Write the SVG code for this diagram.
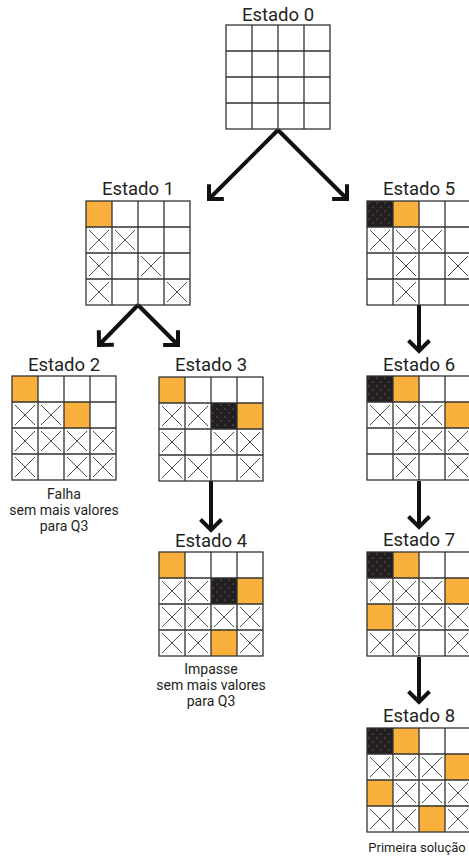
<svg xmlns="http://www.w3.org/2000/svg" xmlns:xlink="http://www.w3.org/1999/xlink" width="469" height="856" viewBox="0 0 469 856">
  <style>
    .lbl { font-family: Roboto, "Liberation Sans", sans-serif; font-size: 18.5px; fill: #231f20; text-anchor: middle; }
    .cap { font-family: Roboto, "Liberation Sans", sans-serif; font-size: 14px; fill: #231f20; text-anchor: middle; }
    .o { fill: #f9b03c; }
    .qd { fill: url(#dots); }
    .gl { fill: none; stroke: #333; stroke-width: 1.3; }
    .xm { fill: none; stroke: #3a3a3a; stroke-width: 0.9; }
    .conn { fill: none; stroke: #111; stroke-width: 4; marker-end: url(#ah); }
  </style>
  <defs>
    <pattern id="dots" patternUnits="userSpaceOnUse" width="8" height="8">
      <rect width="8" height="8" fill="#231f20"/>
      <circle cx="2" cy="2" r="0.6" fill="#9a9a9a"/>
      <circle cx="6" cy="6" r="0.6" fill="#9a9a9a"/>
    </pattern>
    <marker id="ah" markerUnits="userSpaceOnUse" viewBox="-14 -13 17 26" refX="0" refY="0" markerWidth="17" markerHeight="26" orient="auto" overflow="visible">
      <path d="M-10.5,-10.5 L0,0 L-10.5,10.5" fill="none" stroke="#111" stroke-width="4" stroke-linejoin="miter"/>
    </marker>
    <!-- empty 4x4 board, 26px cells -->
    <g id="grid" class="gl">
      <rect x="0" y="0" width="104" height="104"/>
      <path d="M26 0V104M52 0V104M78 0V104M0 26H104M0 52H104M0 78H104"/>
    </g>
    <!-- crossed-out cell -->
    <path id="x" class="xm" d="M3 3L23 23M23 3L3 23"/>
    <!-- queen placed and fixed (dark dotted cell) -->
    <rect id="qc" class="qd" width="26" height="26"/>
  </defs>

  <g id="connectors">
    <path class="conn" d="M278 130L209 199"/>
    <path class="conn" d="M278 130L347 199"/>
    <path class="conn" d="M138 305L99 345"/>
    <path class="conn" d="M138 305L178 345"/>
    <path class="conn" d="M211 481V530"/>
    <path class="conn" d="M419 305V351"/>
    <path class="conn" d="M419 481V527"/>
    <path class="conn" d="M419 657V702"/>
  </g>

  <g id="estado0">
    <text class="lbl" x="278" y="21">Estado 0</text>
    <g transform="translate(226 25)">
      <use xlink:href="#grid"/>
    </g>
  </g>

  <g id="estado1">
    <text class="lbl" x="138" y="195">Estado 1</text>
    <g transform="translate(86 201)">
      <rect class="o" x="0" y="0" width="26" height="26"/>
      <use xlink:href="#x" x="0" y="26"/><use xlink:href="#x" x="26" y="26"/>
      <use xlink:href="#x" x="0" y="52"/><use xlink:href="#x" x="52" y="52"/>
      <use xlink:href="#x" x="0" y="78"/><use xlink:href="#x" x="78" y="78"/>
      <use xlink:href="#grid"/>
    </g>
  </g>

  <g id="estado2">
    <text class="lbl" x="64" y="371">Estado 2</text>
    <g transform="translate(12 376)">
      <rect class="o" x="0" y="0" width="26" height="26"/>
      <rect class="o" x="52" y="26" width="26" height="26"/>
      <use xlink:href="#x" x="0" y="26"/><use xlink:href="#x" x="26" y="26"/>
      <use xlink:href="#x" x="0" y="52"/><use xlink:href="#x" x="26" y="52"/><use xlink:href="#x" x="52" y="52"/><use xlink:href="#x" x="78" y="52"/>
      <use xlink:href="#x" x="0" y="78"/><use xlink:href="#x" x="52" y="78"/><use xlink:href="#x" x="78" y="78"/>
      <use xlink:href="#grid"/>
    </g>
    <text class="cap" x="64" y="499">Falha</text>
    <text class="cap" x="64" y="515">sem mais valores</text>
    <text class="cap" x="64" y="531">para Q3</text>
  </g>

  <g id="estado3">
    <text class="lbl" x="211" y="371">Estado 3</text>
    <g transform="translate(159 377)">
      <rect class="o" x="0" y="0" width="26" height="26"/>
      <use xlink:href="#qc" x="52" y="26"/>
      <rect class="o" x="78" y="26" width="26" height="26"/>
      <use xlink:href="#x" x="0" y="26"/><use xlink:href="#x" x="26" y="26"/>
      <use xlink:href="#x" x="0" y="52"/><use xlink:href="#x" x="52" y="52"/><use xlink:href="#x" x="78" y="52"/>
      <use xlink:href="#x" x="0" y="78"/><use xlink:href="#x" x="26" y="78"/><use xlink:href="#x" x="78" y="78"/>
      <use xlink:href="#grid"/>
    </g>
  </g>

  <g id="estado4">
    <text class="lbl" x="211" y="547">Estado 4</text>
    <g transform="translate(159 552)">
      <rect class="o" x="0" y="0" width="26" height="26"/>
      <use xlink:href="#qc" x="52" y="26"/>
      <rect class="o" x="78" y="26" width="26" height="26"/>
      <rect class="o" x="52" y="78" width="26" height="26"/>
      <use xlink:href="#x" x="0" y="26"/><use xlink:href="#x" x="26" y="26"/>
      <use xlink:href="#x" x="0" y="52"/><use xlink:href="#x" x="26" y="52"/><use xlink:href="#x" x="52" y="52"/><use xlink:href="#x" x="78" y="52"/>
      <use xlink:href="#x" x="0" y="78"/><use xlink:href="#x" x="26" y="78"/><use xlink:href="#x" x="78" y="78"/>
      <use xlink:href="#grid"/>
    </g>
    <text class="cap" x="211" y="674">Impasse</text>
    <text class="cap" x="211" y="690">sem mais valores</text>
    <text class="cap" x="211" y="706">para Q3</text>
  </g>

  <g id="estado5">
    <text class="lbl" x="419" y="195">Estado 5</text>
    <g transform="translate(367 201)">
      <use xlink:href="#qc" x="0" y="0"/>
      <rect class="o" x="26" y="0" width="26" height="26"/>
      <use xlink:href="#x" x="0" y="26"/><use xlink:href="#x" x="26" y="26"/><use xlink:href="#x" x="52" y="26"/>
      <use xlink:href="#x" x="26" y="52"/><use xlink:href="#x" x="78" y="52"/>
      <use xlink:href="#x" x="26" y="78"/>
      <use xlink:href="#grid"/>
    </g>
  </g>

  <g id="estado6">
    <text class="lbl" x="419" y="371">Estado 6</text>
    <g transform="translate(367 376)">
      <use xlink:href="#qc" x="0" y="0"/>
      <rect class="o" x="26" y="0" width="26" height="26"/>
      <rect class="o" x="78" y="26" width="26" height="26"/>
      <use xlink:href="#x" x="0" y="26"/><use xlink:href="#x" x="26" y="26"/><use xlink:href="#x" x="52" y="26"/>
      <use xlink:href="#x" x="26" y="52"/><use xlink:href="#x" x="52" y="52"/><use xlink:href="#x" x="78" y="52"/>
      <use xlink:href="#x" x="26" y="78"/><use xlink:href="#x" x="78" y="78"/>
      <use xlink:href="#grid"/>
    </g>
  </g>

  <g id="estado7">
    <text class="lbl" x="419" y="546">Estado 7</text>
    <g transform="translate(367 552)">
      <use xlink:href="#qc" x="0" y="0"/>
      <rect class="o" x="26" y="0" width="26" height="26"/>
      <rect class="o" x="78" y="26" width="26" height="26"/>
      <rect class="o" x="0" y="52" width="26" height="26"/>
      <use xlink:href="#x" x="0" y="26"/><use xlink:href="#x" x="26" y="26"/><use xlink:href="#x" x="52" y="26"/>
      <use xlink:href="#x" x="26" y="52"/><use xlink:href="#x" x="52" y="52"/><use xlink:href="#x" x="78" y="52"/>
      <use xlink:href="#x" x="0" y="78"/><use xlink:href="#x" x="26" y="78"/><use xlink:href="#x" x="78" y="78"/>
      <use xlink:href="#grid"/>
    </g>
  </g>

  <g id="estado8">
    <text class="lbl" x="419" y="722">Estado 8</text>
    <g transform="translate(367 728)">
      <use xlink:href="#qc" x="0" y="0"/>
      <rect class="o" x="26" y="0" width="26" height="26"/>
      <rect class="o" x="78" y="26" width="26" height="26"/>
      <rect class="o" x="0" y="52" width="26" height="26"/>
      <rect class="o" x="52" y="78" width="26" height="26"/>
      <use xlink:href="#x" x="0" y="26"/><use xlink:href="#x" x="26" y="26"/><use xlink:href="#x" x="52" y="26"/>
      <use xlink:href="#x" x="26" y="52"/><use xlink:href="#x" x="52" y="52"/><use xlink:href="#x" x="78" y="52"/>
      <use xlink:href="#x" x="0" y="78"/><use xlink:href="#x" x="26" y="78"/><use xlink:href="#x" x="78" y="78"/>
      <use xlink:href="#grid"/>
    </g>
    <text class="cap" x="417" y="852" style="font-size:13px">Primeira solução</text>
  </g>
</svg>
